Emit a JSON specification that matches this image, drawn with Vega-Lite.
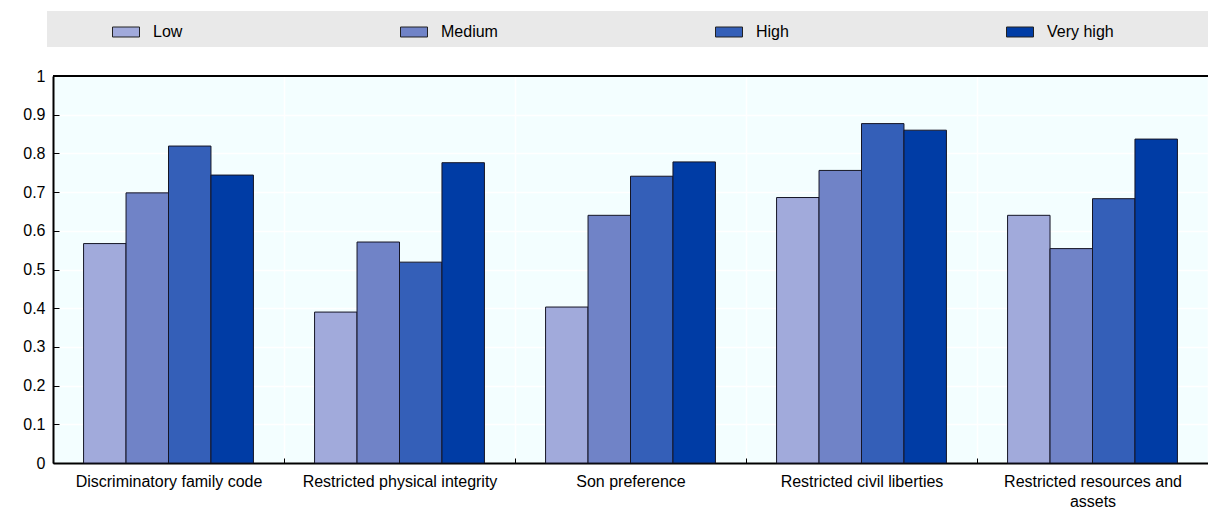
{
  "$schema": "https://vega.github.io/schema/vega-lite/v6.json",
  "width": 1155,
  "height": 387,
  "autosize": {"type": "none"},
  "padding": {"left": 53, "top": 76, "right": 0, "bottom": 46},
  "background": "white",
  "config": {
    "font": "Liberation Sans",
    "view": {"fill": "#F3FEFF", "stroke": null},
    "axisY": {
      "title": null, "format": ".1~f", "grid": true, "gridColor": "white", "gridWidth": 1.5,
      "domainColor": "black", "domainWidth": 2,
      "tickColor": "black", "tickSize": -6, "tickWidth": 1,
      "labelPadding": 14, "labelFontSize": 16, "labelColor": "black", "labelOverlap": false
    }
  },
  "data": {
    "values": [
      {"cat": "Discriminatory family code", "level": "Low", "v": 0.567},
      {"cat": "Discriminatory family code", "level": "Medium", "v": 0.698},
      {"cat": "Discriminatory family code", "level": "High", "v": 0.819},
      {"cat": "Discriminatory family code", "level": "Very high", "v": 0.744},
      {"cat": "Restricted physical integrity", "level": "Low", "v": 0.390},
      {"cat": "Restricted physical integrity", "level": "Medium", "v": 0.571},
      {"cat": "Restricted physical integrity", "level": "High", "v": 0.519},
      {"cat": "Restricted physical integrity", "level": "Very high", "v": 0.776},
      {"cat": "Son preference", "level": "Low", "v": 0.403},
      {"cat": "Son preference", "level": "Medium", "v": 0.640},
      {"cat": "Son preference", "level": "High", "v": 0.741},
      {"cat": "Son preference", "level": "Very high", "v": 0.778},
      {"cat": "Restricted civil liberties", "level": "Low", "v": 0.686},
      {"cat": "Restricted civil liberties", "level": "Medium", "v": 0.756},
      {"cat": "Restricted civil liberties", "level": "High", "v": 0.877},
      {"cat": "Restricted civil liberties", "level": "Very high", "v": 0.860},
      {"cat": "Restricted resources and assets", "level": "Low", "v": 0.640},
      {"cat": "Restricted resources and assets", "level": "Medium", "v": 0.554},
      {"cat": "Restricted resources and assets", "level": "High", "v": 0.683},
      {"cat": "Restricted resources and assets", "level": "Very high", "v": 0.837}
    ]
  },
  "layer": [
    {
      "mark": {"type": "bar", "stroke": "#151525", "strokeWidth": 1},
      "encoding": {
        "x": {
          "field": "cat", "type": "nominal", "sort": null,
          "scale": {"paddingInner": 0, "paddingOuter": 0},
          "axis": {
            "title": null, "labelAngle": 0, "tickBand": "extent",
            "grid": true, "gridColor": "white", "gridWidth": 1.5,
            "domainColor": "black", "domainWidth": 2,
            "tickColor": "black", "tickSize": -5, "tickWidth": 1,
            "labelPadding": 15, "labelFontSize": 16, "labelColor": "black",
            "labelLimit": 300, "labelLineHeight": 20,
            "labelExpr": "datum.label == 'Restricted resources and assets' ? ['Restricted resources and', 'assets'] : datum.label"
          }
        },
        "xOffset": {
          "field": "level", "type": "nominal",
          "sort": ["Low", "Medium", "High", "Very high"],
          "scale": {"paddingInner": 0, "paddingOuter": 0.72}
        },
        "y": {
          "field": "v", "type": "quantitative",
          "scale": {"domain": [0, 1], "nice": false},
          "axis": {"values": [0, 0.1, 0.2, 0.3, 0.4, 0.5, 0.6, 0.7, 0.8, 0.9, 1]}
        },
        "fill": {
          "field": "level", "type": "nominal",
          "sort": ["Low", "Medium", "High", "Very high"],
          "scale": {
            "domain": ["Low", "Medium", "High", "Very high"],
            "range": ["#A1AADB", "#7083C7", "#345FB8", "#003CA5"]
          },
          "legend": {
            "title": " ",
            "titleOrient": "right",
            "titlePadding": 88,
            "orient": "none",
            "legendX": -6,
            "legendY": -65,
            "direction": "horizontal",
            "columns": 4,
            "columnPadding": 159,
            "fillColor": "#E9E9E9",
            "padding": 7,
            "symbolType": "M-1,-0.37H1V0.37H-1Z",
            "symbolSize": 729,
            "symbolStrokeColor": "#222222",
            "symbolStrokeWidth": 1,
            "symbolOffset": 58,
            "labelOffset": 13,
            "labelFontSize": 16,
            "labelColor": "black"
          }
        }
      }
    },
    {
      "mark": {"type": "rule", "color": "black", "strokeWidth": 2},
      "encoding": {
        "y": {"datum": 1, "type": "quantitative",
          "axis": {"values": [0, 0.1, 0.2, 0.3, 0.4, 0.5, 0.6, 0.7, 0.8, 0.9, 1]}}
      }
    }
  ]
}
